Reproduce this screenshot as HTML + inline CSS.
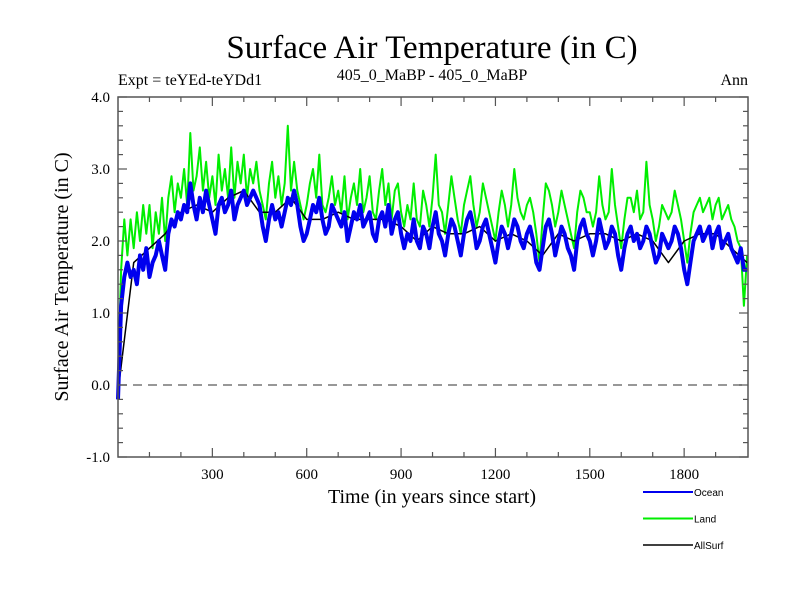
<!DOCTYPE html>
<html><head><meta charset="utf-8"><style>
body{margin:0;background:#fff;}
svg{display:block;}
text{font-family:"Liberation Serif",serif;fill:#000;}
.lg{font-family:"Liberation Sans",sans-serif;font-size:10px;}
</style></head><body>
<svg id="chart" width="800" height="600">
<text x="432" y="58" font-size="33" text-anchor="middle">Surface Air Temperature (in C)</text>
<text x="118" y="85" font-size="16">Expt = teYEd-teYDd1</text>
<text x="432" y="80" font-size="16" text-anchor="middle">405_0_MaBP - 405_0_MaBP</text>
<text x="748" y="85" font-size="16" text-anchor="end">Ann</text>
<text transform="translate(68,277) rotate(-90)" font-size="20" text-anchor="middle">Surface Air Temperature (in C)</text>
<text x="432" y="503" font-size="20" text-anchor="middle">Time (in years since start)</text>
<g id="plot"></g>
<g id="legend"></g>
</svg>
<script>
const years0=0, yearStep=10;
const ocean=[-0.2,1.1,1.5,1.7,1.5,1.6,1.4,1.8,1.6,1.9,
1.5,1.7,1.8,2.0,1.8,1.6,2.1,2.3,2.2,2.4,
2.3,2.5,2.4,2.8,2.5,2.3,2.6,2.4,2.7,2.5,
2.3,2.1,2.5,2.6,2.4,2.5,2.7,2.3,2.5,2.6,
2.7,2.5,2.6,2.7,2.6,2.5,2.2,2.0,2.3,2.5,
2.3,2.4,2.2,2.4,2.6,2.5,2.7,2.5,2.2,2.0,
2.1,2.3,2.5,2.4,2.6,2.3,2.1,2.2,2.5,2.4,
2.3,2.2,2.4,2.0,2.2,2.4,2.3,2.5,2.2,2.3,
2.4,2.1,2.0,2.3,2.4,2.2,2.5,2.1,2.3,2.4,
2.1,1.9,2.1,2.0,2.3,2.0,1.9,2.2,2.1,1.9,
2.2,2.4,2.1,2.0,1.8,2.1,2.3,2.2,2.0,1.8,
2.1,2.3,2.4,2.2,1.9,2.0,2.2,2.3,2.1,1.9,
1.7,2.0,2.2,2.1,1.9,2.1,2.3,2.2,2.0,1.9,
2.1,2.2,2.0,1.7,1.6,1.9,2.2,2.3,2.1,1.8,
2.0,2.2,2.1,1.9,1.8,1.6,2.0,2.2,2.3,2.1,
2.0,1.8,2.0,2.3,2.1,1.9,2.0,2.2,2.1,1.8,
1.6,1.9,2.1,2.2,2.0,2.1,1.9,2.0,2.2,2.1,
1.9,1.7,1.8,2.1,2.0,1.9,2.0,2.2,2.1,1.9,
1.6,1.4,1.7,2.0,2.1,2.2,2.0,2.1,2.2,1.9,
2.1,2.2,1.9,2.0,2.1,1.9,1.8,1.7,1.9,1.6,1.6];
const land=[0.0,1.6,2.3,1.8,2.3,1.9,2.4,2.0,2.5,2.1,
2.5,1.9,2.4,2.1,2.6,2.0,2.6,2.9,2.4,2.8,
2.6,3.0,2.5,3.5,2.7,2.9,3.3,2.7,3.1,2.6,
2.9,2.5,3.2,2.7,3.0,2.6,3.3,2.6,3.1,2.8,
3.2,2.6,3.0,2.8,3.1,2.7,2.5,2.3,2.8,3.1,
2.6,2.9,2.5,2.8,3.6,2.7,3.1,2.7,2.5,2.3,
2.5,2.8,3.0,2.6,3.2,2.5,2.4,2.6,2.9,2.5,
2.7,2.4,2.9,2.3,2.6,2.8,2.5,3.0,2.4,2.6,
2.9,2.4,2.3,2.7,3.0,2.5,2.8,2.3,2.7,2.8,
2.4,2.2,2.5,2.3,2.8,2.3,2.2,2.7,2.5,2.2,
2.6,3.2,2.5,2.4,2.1,2.5,2.9,2.6,2.3,2.1,
2.5,2.7,2.9,2.5,2.2,2.4,2.8,2.6,2.4,2.2,
2.0,2.4,2.7,2.5,2.2,2.5,3.0,2.6,2.4,2.3,
2.5,2.6,2.4,2.1,1.7,2.3,2.8,2.7,2.5,2.2,
2.4,2.7,2.5,2.3,2.1,1.9,2.4,2.7,2.6,2.4,
2.4,2.2,2.4,2.9,2.5,2.3,2.4,3.0,2.5,2.2,
1.9,2.3,2.6,2.6,2.4,2.7,2.3,2.4,3.1,2.5,
2.3,2.0,2.2,2.5,2.4,2.3,2.4,2.7,2.5,2.3,
2.0,1.7,2.1,2.4,2.5,2.6,2.4,2.5,2.6,2.3,
2.5,2.6,2.3,2.4,2.5,2.3,2.2,2.0,1.9,1.1,1.8];
const allStep=50;
const allsurf=[-0.1,1.7,1.9,2.1,2.4,2.5,2.4,2.6,2.7,2.4,2.4,2.6,2.3,2.3,2.4,2.3,2.3,2.3,2.2,2.0,2.2,2.1,2.1,2.2,2.0,2.1,2.0,1.8,2.1,2.0,2.1,2.1,2.0,2.1,2.0,1.7,2.0,2.1,2.1,1.9,1.7];
const xTicks=[300,600,900,1200,1500,1800];
const yTicks=[-1.0,0.0,1.0,2.0,3.0,4.0];
const xMin=0,xMax=2003,yMin=-1,yMax=4;
const L=118,R=748,T=97,B=457;
const sx=v=>L+(v-xMin)/(xMax-xMin)*(R-L);
const sy=v=>B-(v-yMin)/(yMax-yMin)*(B-T);
const NS="http://www.w3.org/2000/svg";
const plot=document.getElementById('plot');
function mk(tag,attrs,parent){const e=document.createElementNS(NS,tag);for(const k in attrs)e.setAttribute(k,attrs[k]);(parent||plot).appendChild(e);return e;}
function series(arr,step,color,w,name){
  const d=arr.map((v,i)=>(i?'L':'M')+sx(i*step).toFixed(1)+','+sy(v).toFixed(1)).join('');
  const p=mk('path',{d:d,fill:'none',stroke:color,'stroke-width':w,'stroke-linejoin':'round'});
  
  
}
const z=mk('line',{x1:L,x2:R,y1:sy(0),y2:sy(0),stroke:'#777','stroke-width':1.5,'stroke-dasharray':'9,6'});


series(land,yearStep,'#00ee00',2,'land-series');
series(allsurf,allStep,'#000',1.5,'allsurf-series');
series(ocean,yearStep,'#0000ee',4,'ocean-series');
const fr=mk('rect',{x:L,y:T,width:R-L,height:B-T,fill:'none',stroke:'#555','stroke-width':1.5});


for(let y=100;y<2000;y+=100){
  const major=y%300===0, len=major?9:5;
  mk('line',{x1:sx(y),x2:sx(y),y1:B,y2:B-len,stroke:'#555','stroke-width':1.2});
  mk('line',{x1:sx(y),x2:sx(y),y1:T,y2:T+len,stroke:'#555','stroke-width':1.2});
}
xTicks.forEach(v=>{
  const t=mk('text',{x:sx(v),y:B+22,'font-size':15,'text-anchor':'middle'});
  t.textContent=v;
  
  
});
for(let k=-5;k<=20;k++){
  const v=k*0.2, major=k%5===0, len=major?9:5;
  mk('line',{x1:L,x2:L+len,y1:sy(v),y2:sy(v),stroke:'#555','stroke-width':1.2});
  mk('line',{x1:R,x2:R-len,y1:sy(v),y2:sy(v),stroke:'#555','stroke-width':1.2});
}
yTicks.forEach(v=>{
  const t=mk('text',{x:L-8,y:sy(v)+5,'font-size':15,'text-anchor':'end'});
  t.textContent=v.toFixed(1);
  
  
});
const leg=document.getElementById('legend');
const legNames=['Ocean','Land','AllSurf'];
const legColors=['#0000ee','#00ee00','#000'];
legNames.forEach((n,i)=>{
  const y=492+i*26.5;
  const g=mk('g',{},leg);
  
  
  mk('line',{x1:643,x2:693,y1:y,y2:y,stroke:legColors[i],'stroke-width':i===2?1.5:2},g);
  const t=mk('text',{x:694,y:y+4,class:'lg'},g);
  t.textContent=n;
});
</script>
</body></html>
